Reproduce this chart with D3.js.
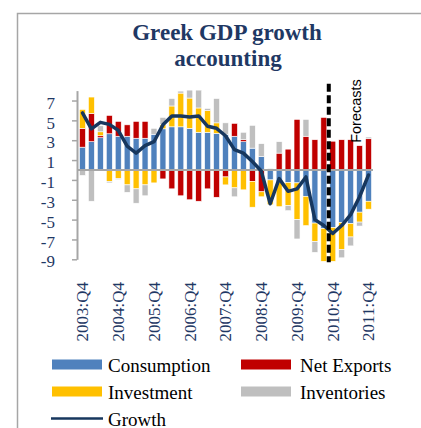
<!DOCTYPE html>
<html>
<head>
<meta charset="utf-8">
<script src="https://cdn.jsdelivr.net/npm/d3@7"></script>
<style>
  html, body { margin: 0; padding: 0; background: #fff; }
  svg { display: block; }
</style>
</head>
<body>
<svg id="chart" width="421" height="428"></svg>
<script>
// Quarterly contributions to Greek GDP growth (percentage points)
const quarters = [
  "2003:Q4","2004:Q1","2004:Q2","2004:Q3","2004:Q4",
  "2005:Q1","2005:Q2","2005:Q3","2005:Q4",
  "2006:Q1","2006:Q2","2006:Q3","2006:Q4",
  "2007:Q1","2007:Q2","2007:Q3","2007:Q4",
  "2008:Q1","2008:Q2","2008:Q3","2008:Q4",
  "2009:Q1","2009:Q2","2009:Q3","2009:Q4",
  "2010:Q1","2010:Q2","2010:Q3","2010:Q4",
  "2011:Q1","2011:Q2","2011:Q3","2011:Q4"
];
const consumption = [2.3, 2.85, 3.25, 3.65, 3.4, 3.4, 3.2, 3.2, 3.6, 4.15, 4.35, 4.35, 4.2, 3.8, 3.8, 3.7, 3.6, 3.4, 2.85, 2.2, 1.35, -1.0, -1.25, -1.25, -1.3, -2.65, -5.35, -5.9, -5.8, -5.3, -5.4, -4.25, -3.15];
const netExports  = [1.9, 2.85, 0.2, 1.85, 1.5, 1.15, 1.7, 1.7, 0, -0.9, -1.9, -2.6, -3.0, -3.15, -1.9, -2.75, -0.7, 1.3, 0.2, -1.15, -2.2, 0, 1.7, 2.1, 5.1, 3.4, 3.05, 5.3, 2.9, 3.05, 3.05, 2.45, 3.15];
const investment  = [1.9, 1.65, 0.4, -1.15, -0.85, -1.5, -1.9, -1.5, -1.3, 0.45, 2.1, 3.4, 3.05, 2.45, 2.2, 1.05, -0.8, -1.8, -2.0, -2.6, -0.5, -2.5, -2.45, -2.35, -3.7, -2.95, -1.85, -3.3, -3.4, -2.7, -1.35, -1.0, -0.8];
const inventories = [-0.55, -3.15, 0.6, -0.15, -0.1, -0.75, -1.45, -1.1, 0.6, 0.7, 0.75, 0.2, 0.8, 1.8, 0.2, 2.45, 1.15, -0.9, 0.75, 2.3, 1.3, 0.15, 1.15, -0.5, -1.95, 1.7, -1.1, 0, 0, -0.85, -0.9, -0.4, 0.17];
const growth      = [5.75, 4.15, 4.8, 4.6, 4.0, 2.4, 1.7, 2.45, 2.85, 4.55, 5.45, 5.45, 5.35, 5.45, 4.4, 4.2, 3.45, 2.05, 1.7, 0.85, -0.1, -3.4, -0.87, -2.15, -1.9, -0.7, -5.0, -5.6, -6.4, -5.6, -4.5, -2.7, -0.5];

const yTicks = [7, 5, 3, 1, -1, -3, -5, -7, -9];
const firstForecast = "2010:Q4";

const seriesNames  = ["Consumption", "Net Exports", "Investment", "Inventories"];
const seriesColors = ["#4F81BD", "#C00000", "#FFC000", "#BFBFBF"];
const lineColor = "#17375E";
const navy = "#1F3864";
const serif = "'Liberation Serif', 'Times New Roman', serif";

const rows = quarters.map((q, i) => ({
  q,
  "Consumption": consumption[i],
  "Net Exports": netExports[i],
  "Investment": investment[i],
  "Inventories": inventories[i]
}));

const svg = d3.select("#chart");

// outer frame
svg.append("path")
  .attr("d", "M17.5,428V13.5H421")
  .attr("fill", "none")
  .attr("stroke", "#A6A6A6")
  .attr("stroke-width", 1.5);

// title
const title = svg.append("text")
  .attr("text-anchor", "middle")
  .attr("font-family", serif)
  .attr("font-weight", "bold")
  .attr("font-size", 23)
  .attr("fill", navy);
title.append("tspan").attr("x", 227).attr("y", 40).text("Greek GDP growth");
title.append("tspan").attr("x", 228).attr("y", 66).text("accounting");

const x = d3.scaleBand()
  .domain(quarters)
  .range([78, 373])
  .paddingInner(0.33)
  .paddingOuter(0.165);

const y = d3.scaleLinear()
  .domain([-9, 8])
  .range([259.3, 90.6]);

// stacked bars, positives up and negatives down from zero
const stacked = d3.stack()
  .keys(seriesNames)
  .offset(d3.stackOffsetDiverging)(rows);

svg.append("g")
  .selectAll("g")
  .data(stacked)
  .join("g")
  .attr("fill", (d, i) => seriesColors[i])
  .selectAll("rect")
  .data(d => d)
  .join("rect")
  .attr("x", d => x(d.data.q))
  .attr("width", x.bandwidth())
  .attr("y", d => y(Math.max(d[0], d[1])))
  .attr("height", d => Math.abs(y(d[0]) - y(d[1])))
  .attr("stroke", "#fff")
  .attr("stroke-width", 0.6);

// y axis
const yAxis = svg.append("g")
  .attr("transform", "translate(77,0)")
  .call(d3.axisLeft(y).tickValues(yTicks).tickSize(5).tickSizeOuter(0).tickPadding(17)
    .tickFormat(d => String(d)));
yAxis.select(".domain").attr("stroke", "#A6A6A6").attr("stroke-width", 2);
yAxis.selectAll(".tick line").attr("stroke", "#A6A6A6").attr("stroke-width", 1.5);
yAxis.selectAll(".tick text")
  .attr("font-family", serif)
  .attr("font-size", 17)
  .attr("fill", navy)
  .attr("dy", "0.45em");

// zero line
svg.append("line")
  .attr("x1", 77).attr("x2", x.range()[1])
  .attr("y1", y(0)).attr("y2", y(0))
  .attr("stroke", "#A6A6A6")
  .attr("stroke-width", 2);

// x category labels, one per year
svg.append("g")
  .selectAll("text")
  .data(quarters.filter((q, i) => i % 4 === 0))
  .join("text")
  .attr("transform", d => `translate(${x(d) + x.bandwidth() / 2},282) rotate(-90)`)
  .attr("dy", "0.35em")
  .attr("text-anchor", "end")
  .attr("font-family", serif)
  .attr("font-size", 17)
  .attr("fill", navy)
  .text(d => d);

// growth line
const line = d3.line()
  .x((d, i) => x(quarters[i]) + x.bandwidth() / 2)
  .y(d => y(d));
svg.append("path")
  .datum(growth)
  .attr("d", line)
  .attr("fill", "none")
  .attr("stroke", lineColor)
  .attr("stroke-width", 3.5)
  .attr("stroke-linejoin", "round")
  .attr("stroke-linecap", "round");

// forecast divider
const fx = x(firstForecast) - 1;
svg.append("line")
  .attr("x1", fx).attr("x2", fx)
  .attr("y1", y(8.7)).attr("y2", y(-9.3))
  .attr("stroke", "#000")
  .attr("stroke-width", 4)
  .attr("stroke-dasharray", "8,3.5");

svg.append("text")
  .attr("transform", `translate(${fx + 32},111) rotate(-90)`)
  .attr("text-anchor", "middle")
  .attr("font-family", "'Liberation Sans', Arial, sans-serif")
  .attr("font-size", 14.5)
  .attr("fill", "#000")
  .text("Forecasts");

// legend
const legendItems = [
  { name: "Consumption", color: seriesColors[0], col: 0, row: 0, type: "box" },
  { name: "Net Exports", color: seriesColors[1], col: 1, row: 0, type: "box" },
  { name: "Investment",  color: seriesColors[2], col: 0, row: 1, type: "box" },
  { name: "Inventories", color: seriesColors[3], col: 1, row: 1, type: "box" },
  { name: "Growth",      color: lineColor,       col: 0, row: 2, type: "line" }
];
const legend = svg.append("g");
const lg = legend.selectAll("g")
  .data(legendItems)
  .join("g")
  .attr("transform", d => `translate(${d.col === 0 ? 52 : 241},${364.5 + d.row * 27})`);
lg.filter(d => d.type === "box").append("rect")
  .attr("x", 0).attr("y", -5)
  .attr("width", 50).attr("height", 10)
  .attr("fill", d => d.color);
lg.filter(d => d.type === "line").append("line")
  .attr("x1", -1).attr("x2", 51)
  .attr("y1", 0).attr("y2", 0)
  .attr("stroke", d => d.color)
  .attr("stroke-width", 2.5);
lg.append("text")
  .attr("x", d => d.col === 0 ? 56 : 59)
  .attr("y", 7)
  .attr("font-family", serif)
  .attr("font-size", 19)
  .attr("fill", "#000")
  .text(d => d.name);
</script>
</body>
</html>
